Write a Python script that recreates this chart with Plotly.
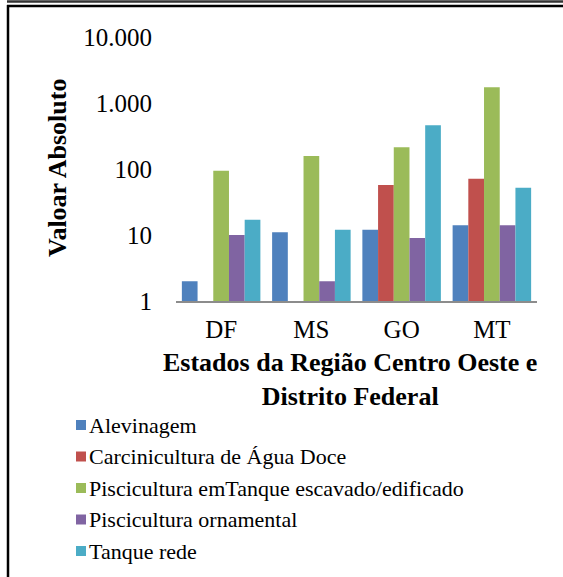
import plotly.graph_objects as go

# Categories and series
states = ["DF", "MS", "GO", "MT"]
series_names = [
    "Alevinagem",
    "Carcinicultura de Água Doce",
    "Piscicultura emTanque escavado/edificado",
    "Piscicultura ornamental",
    "Tanque rede",
]
alevinagem = [2, 11, 12, 14]
carcinicultura = [None, None, 57, 71]
piscicultura_tanque = [94, 157, 214, 1730]
piscicultura_ornamental = [10, 2, 9, 14]
tanque_rede = [17, 12, 460, 52]
series_values = [alevinagem, carcinicultura, piscicultura_tanque,
                 piscicultura_ornamental, tanque_rede]
colors = ["#4F81BD", "#C0504D", "#9BBB59", "#8064A2", "#4BACC6"]

y_tickvals = [1, 10, 100, 1000, 10000]
y_ticktext = ["1", "10", "100", "1.000", "10.000"]

W, H = 563, 577
ML, MR, MT, MB = 176, 26, 37, 276
PW = W - ML - MR
PH = H - MT - MB
FONT = "Liberation Serif"


def px_x(x):
    """pixel column -> paper x"""
    return (x - ML) / PW


def px_y(y):
    """pixel row (from top) -> paper y"""
    return (H - MB - y) / PH


fig = go.Figure()
for name, vals, col in zip(series_names, series_values, colors):
    fig.add_trace(go.Bar(
        x=states, y=vals, name=name,
        marker=dict(color=col, line=dict(width=0)),
        showlegend=False,
    ))

fig.update_layout(
    width=W, height=H,
    margin=dict(l=ML, r=MR, t=MT, b=MB, pad=0),
    paper_bgcolor="white", plot_bgcolor="white",
    barmode="group", bargap=0.13, bargroupgap=0,
    font=dict(family=FONT, color="black"),
)
fig.update_xaxes(
    showline=True, linecolor="#8c8c8c", linewidth=2,
    showgrid=False, zeroline=False, ticks="",
    tickfont=dict(size=25, family=FONT, color="black"),
    ticklabelstandoff=5,
)
fig.update_yaxes(
    type="log", range=[0, 4],
    tickvals=y_tickvals, ticktext=y_ticktext,
    showline=False, showgrid=False, zeroline=False, ticks="",
    tickfont=dict(size=25, family=FONT, color="black"),
    ticklabelstandoff=23,
)

annotations = [
    dict(text="<b>Valoar Absoluto</b>", textangle=-90,
         x=px_x(57), y=px_y(168), xref="paper", yref="paper",
         xanchor="center", yanchor="middle", showarrow=False,
         font=dict(size=26, family=FONT, color="black")),
    dict(text="<b>Estados da Região Centro Oeste e<br>Distrito Federal</b>",
         x=px_x(350), y=px_y(379), xref="paper", yref="paper",
         xanchor="center", yanchor="middle", showarrow=False,
         font=dict(size=26, family=FONT, color="black")),
]

shapes = [
    # page frame: double rule on top, single rule on the left
    dict(type="line", xref="paper", yref="paper",
         x0=px_x(7), x1=px_x(W), y0=px_y(1.5), y1=px_y(1.5),
         line=dict(color="#333333", width=2.5)),
    dict(type="line", xref="paper", yref="paper",
         x0=px_x(7), x1=px_x(W), y0=px_y(6), y1=px_y(6),
         line=dict(color="black", width=2.5)),
    dict(type="line", xref="paper", yref="paper",
         x0=px_x(8), x1=px_x(8), y0=px_y(5), y1=px_y(H),
         line=dict(color="black", width=2.5)),
]

# legend: colour square + series name, one row per series
row0, row_step = 425, 31.5
for i, (name, col) in enumerate(zip(series_names, colors)):
    yc = row0 + i * row_step
    shapes.append(dict(type="rect", xref="paper", yref="paper",
                       x0=px_x(76), x1=px_x(86),
                       y0=px_y(yc - 5), y1=px_y(yc + 5),
                       fillcolor=col, line=dict(width=0)))
    annotations.append(dict(text=name, x=px_x(87), y=px_y(yc),
                            xref="paper", yref="paper",
                            xanchor="left", yanchor="middle",
                            showarrow=False,
                            font=dict(size=22, family=FONT, color="black")))

fig.update_layout(annotations=annotations, shapes=shapes)
fig.write_html("out.html")
